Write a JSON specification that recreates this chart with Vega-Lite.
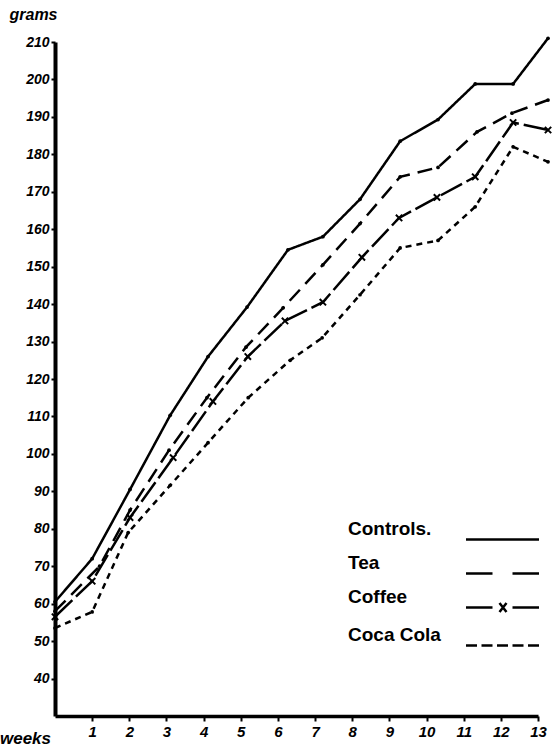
{
  "$schema": "https://vega.github.io/schema/vega-lite/v6.json",
  "width": 483,
  "height": 674,
  "autosize": {"type": "none"},
  "padding": {"left": 55, "top": 42, "right": 21, "bottom": 32},
  "background": "white",
  "config": {
    "view": {"stroke": null},
    "font": "Liberation Sans",
    "axis": {"grid": false, "domainColor": "black", "tickColor": "black", "labelColor": "black", "titleColor": "black", "labelFont": "Liberation Sans", "titleFont": "Liberation Sans", "labelFontWeight": "bold", "labelFontStyle": "italic", "titleFontWeight": "bold", "titleFontStyle": "italic"}
  },
  "data": {
    "values": [
      {"series": "Controls", "week": 0, "grams": 60.5},
      {"series": "Controls", "week": 1.0, "grams": 72},
      {"series": "Controls", "week": 2.02, "grams": 90.5},
      {"series": "Controls", "week": 3.1, "grams": 110.3},
      {"series": "Controls", "week": 4.12, "grams": 126},
      {"series": "Controls", "week": 5.17, "grams": 139.2},
      {"series": "Controls", "week": 6.27, "grams": 154.5},
      {"series": "Controls", "week": 7.21, "grams": 158},
      {"series": "Controls", "week": 8.21, "grams": 168},
      {"series": "Controls", "week": 9.29, "grams": 183.5},
      {"series": "Controls", "week": 10.31, "grams": 189.3},
      {"series": "Controls", "week": 11.31, "grams": 198.8},
      {"series": "Controls", "week": 12.33, "grams": 198.8},
      {"series": "Controls", "week": 13.27, "grams": 211},
      {"series": "Tea", "week": 0, "grams": 58},
      {"series": "Tea", "week": 1.2, "grams": 70},
      {"series": "Tea", "week": 2.02, "grams": 85},
      {"series": "Tea", "week": 3.07, "grams": 101},
      {"series": "Tea", "week": 4.09, "grams": 115},
      {"series": "Tea", "week": 5.14, "grams": 128.5},
      {"series": "Tea", "week": 6.14, "grams": 139},
      {"series": "Tea", "week": 7.21, "grams": 150.5},
      {"series": "Tea", "week": 8.21, "grams": 161.5},
      {"series": "Tea", "week": 9.29, "grams": 174},
      {"series": "Tea", "week": 10.31, "grams": 176.5},
      {"series": "Tea", "week": 11.36, "grams": 186},
      {"series": "Tea", "week": 12.3, "grams": 191},
      {"series": "Tea", "week": 13.27, "grams": 194.5},
      {"series": "Coffee", "week": 0, "grams": 56.5},
      {"series": "Coffee", "week": 1.0, "grams": 66},
      {"series": "Coffee", "week": 2.02, "grams": 83},
      {"series": "Coffee", "week": 3.18, "grams": 99},
      {"series": "Coffee", "week": 4.25, "grams": 114},
      {"series": "Coffee", "week": 5.19, "grams": 126},
      {"series": "Coffee", "week": 6.19, "grams": 135.5},
      {"series": "Coffee", "week": 7.21, "grams": 140.5},
      {"series": "Coffee", "week": 8.26, "grams": 152.5},
      {"series": "Coffee", "week": 9.26, "grams": 163},
      {"series": "Coffee", "week": 10.28, "grams": 168.5},
      {"series": "Coffee", "week": 11.31, "grams": 174},
      {"series": "Coffee", "week": 12.33, "grams": 188.5},
      {"series": "Coffee", "week": 13.27, "grams": 186.5},
      {"series": "Coca Cola", "week": 0, "grams": 53.5},
      {"series": "Coca Cola", "week": 1.0, "grams": 57.8},
      {"series": "Coca Cola", "week": 1.97, "grams": 79},
      {"series": "Coca Cola", "week": 3.1, "grams": 91.6},
      {"series": "Coca Cola", "week": 4.12, "grams": 103},
      {"series": "Coca Cola", "week": 5.2, "grams": 115},
      {"series": "Coca Cola", "week": 6.33, "grams": 125},
      {"series": "Coca Cola", "week": 7.19, "grams": 131},
      {"series": "Coca Cola", "week": 8.21, "grams": 142.5},
      {"series": "Coca Cola", "week": 9.29, "grams": 155},
      {"series": "Coca Cola", "week": 10.31, "grams": 157},
      {"series": "Coca Cola", "week": 11.31, "grams": 166},
      {"series": "Coca Cola", "week": 12.33, "grams": 182},
      {"series": "Coca Cola", "week": 13.27, "grams": 178}
    ]
  },
  "encoding": {
    "x": {
      "field": "week", "type": "quantitative",
      "scale": {"domain": [0, 13], "nice": false, "zero": false},
      "axis": {
        "values": [1,2,3,4,5,6,7,8,9,10,11,12,13],
        "domainWidth": 3.5, "tickWidth": 2, "tickSize": 5,
        "labelFontSize": 15, "labelPadding": 3, "labelFlush": false,
        "title": "weeks", "titleFontSize": 17, "titleX": -30, "titleY": 22,
        "titleAlign": "center", "titleBaseline": "middle"
      }
    },
    "y": {
      "field": "grams", "type": "quantitative",
      "scale": {"domain": [30, 210], "nice": false, "zero": false},
      "axis": {
        "values": [40,50,60,70,80,90,100,110,120,130,140,150,160,170,180,190,200,210],
        "domainWidth": 4, "tickWidth": 2, "tickSize": 4,
        "labelFontSize": 14, "labelPadding": 2, "labelFlush": false,
        "title": "grams", "titleFontSize": 16, "titleAngle": 0, "titleX": -22, "titleY": -28,
        "titleAlign": "center", "titleBaseline": "middle"
      }
    }
  },
  "layer": [
    {
      "mark": {"type": "line", "color": "black", "strokeWidth": 2.5, "clip": false},
      "encoding": {
        "detail": {"field": "series"},
        "order": {"field": "week", "type": "quantitative"},
        "strokeDash": {
          "field": "series", "type": "nominal",
          "scale": {"domain": ["Coca Cola", "Coffee", "Tea", "Controls"], "range": [[6, 5], [24, 5], [15, 8], [1, 0]]},
          "legend": null
        }
      }
    },
    {
      "transform": [{"filter": "datum.series != 'Coffee'"}],
      "mark": {"type": "point", "filled": true, "color": "black", "size": 14, "opacity": 1, "clip": false}
    },
    {
      "transform": [{"filter": "datum.series == 'Coffee'"}],
      "mark": {"type": "point", "filled": false, "color": "black", "strokeWidth": 2, "size": 40, "opacity": 1, "shape": "M-1,-1L1,1M-1,1L1,-1", "clip": false}
    },
    {
      "transform": [{"filter": "datum.week > 100"}],
      "mark": {"type": "point", "filled": false, "color": "black"},
      "encoding": {
        "shape": {
          "field": "series", "type": "nominal",
          "scale": {
            "domain": ["Controls", "Tea", "Coffee", "Coca Cola"],
            "range": [
              "M-3.65,0H3.65",
              "M-3.65,0H-1M1,0H3.65",
              "M-3.65,0H-1M1,0H3.65M-0.3,-0.45L0.4,0.45M-0.3,0.45L0.4,-0.45",
              "M-3.65,0H-2.55M-2.1,0H-1M-0.55,0H0.55M1,0H2.1M2.55,0H3.65"
            ]
          },
          "legend": {
            "title": null,
            "orient": "none",
            "legendX": 436,
            "legendY": 486,
            "symbolSize": 400,
            "symbolStrokeWidth": 2.5,
            "symbolStrokeColor": "black",
            "symbolFillColor": "transparent",
            "symbolOpacity": 1,
            "rowPadding": 8,
            "labelOffset": -166,
            "labelAlign": "left",
            "labelBaseline": "line-bottom",
            "labelLineHeight": 24,
            "labelFontSize": 19,
            "labelFontWeight": "bold",
            "labelFont": "Liberation Sans",
            "labelColor": "black",
            "labelLimit": 200,
            "labelExpr": "datum.label == 'Controls' ? 'Controls.' : datum.label"
          }
        }
      }
    }
  ]
}
